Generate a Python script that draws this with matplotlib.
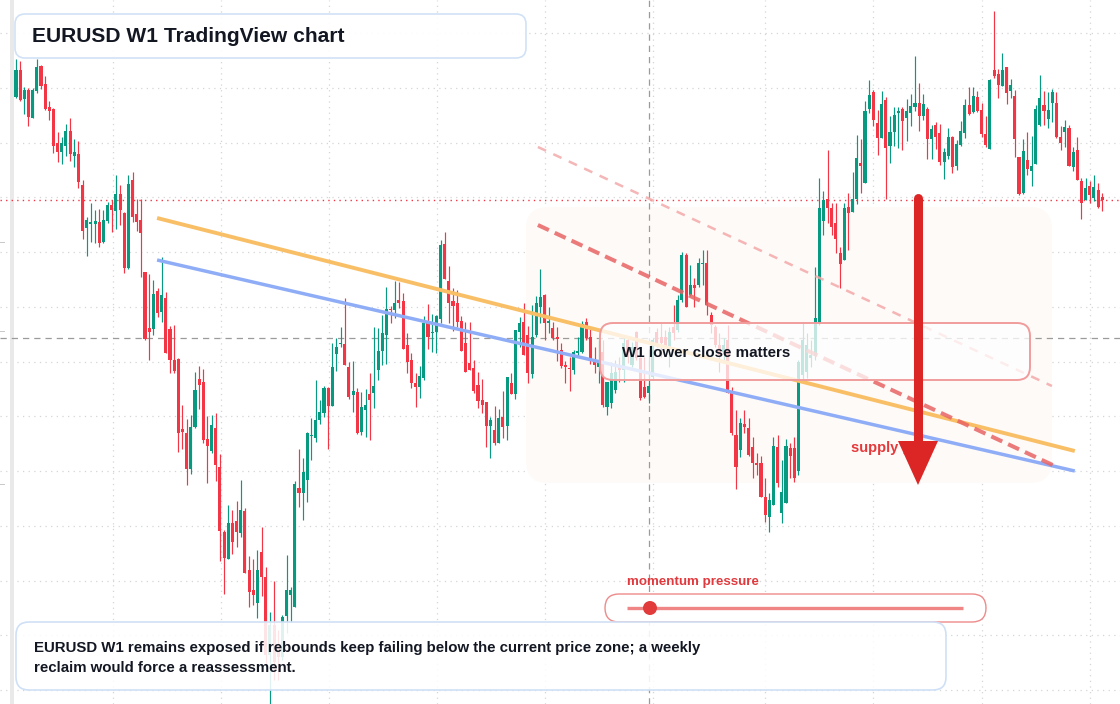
import numpy as np
import matplotlib
matplotlib.use("Agg")
import matplotlib.pyplot as plt
from matplotlib.patches import FancyBboxPatch, Polygon, Rectangle, Circle
from matplotlib.transforms import Affine2D

plt.rcParams['font.family'] = ['Liberation Sans', 'DejaVu Sans']

# EURUSD weekly candles, prices in pips (price x 10000)
OPEN_PIPS = [
    10991, 11018, 10989, 10998, 10970, 10997, 11022, 11004, 10981, 10979,
    10945, 10936, 10942, 10957, 10932, 10934, 10903, 10860, 10864, 10864,
    10866, 10846, 10867, 10883, 10877, 10894, 10875, 10820, 10908, 10874,
    10868, 10816, 10760, 10759, 10797, 10776, 10790, 10759, 10728, 10729,
    10659, 10655, 10619, 10661, 10709, 10706, 10649, 10637, 10660, 10621,
    10556, 10529, 10565, 10567, 10555, 10577, 10518, 10498, 10485, 10536,
    10511, 10433, 10463, 10443, 10431, 10472, 10493, 10481, 10600, 10595,
    10608, 10652, 10650, 10668, 10675, 10700, 10682, 10734, 10744, 10744,
    10721, 10693, 10696, 10656, 10678, 10694, 10695, 10718, 10737, 10753,
    10779, 10778, 10788, 10787, 10743, 10728, 10705, 10701, 10710, 10765,
    10755, 10756, 10769, 10844, 10807, 10787, 10785, 10767, 10745, 10725,
    10720, 10703, 10688, 10686, 10662, 10658, 10645, 10671, 10662, 10705,
    10694, 10756, 10766, 10753, 10714, 10753, 10781, 10793, 10765, 10760,
    10751, 10738, 10723, 10720, 10718, 10735, 10736, 10766, 10751, 10728,
    10721, 10736, 10681, 10685, 10698, 10723, 10718, 10748, 10723, 10756,
    10730, 10701, 10695, 10711, 10756, 10751, 10751, 10741, 10761, 10758,
    10788, 10833, 10793, 10803, 10803, 10824, 10825, 10773, 10761, 10743,
    10736, 10748, 10696, 10653, 10638, 10664, 10660, 10641, 10625, 10625,
    10591, 10571, 10583, 10641, 10575, 10585, 10640, 10640, 10617, 10713,
    10716, 10730, 10732, 10765, 10867, 10889, 10880, 10865, 10835, 10828,
    10881, 10876, 10889, 10925, 10905, 10979, 10996, 10965, 10950, 10988,
    10942, 10956, 10975, 10979, 10970, 10975, 10981, 10985, 10972, 10979,
    10949, 10963, 10955, 10926, 10932, 10951, 10922, 10943, 10955, 10983,
    10976, 10991, 10978, 10954, 10939, 11018, 11014, 11002, 11021, 10997,
    10992, 10931, 10895, 10928, 10917, 10924, 10963, 10983, 10969, 10985,
    10985, 10951, 10956, 10960, 10921, 10938, 10907, 10888, 10902, 10890,
    10898, 10891,
]
HIGH_PIPS = [
    11029, 11027, 11001, 11000, 11000, 11029, 11023, 11012, 10987, 10980,
    10956, 10951, 10964, 10970, 10949, 10947, 10908, 10871, 10885, 10878,
    10879, 10878, 10886, 10888, 10913, 10903, 10876, 10913, 10916, 10889,
    10889, 10816, 10814, 10808, 10800, 10831, 10796, 10762, 10763, 10730,
    10683, 10669, 10673, 10716, 10722, 10719, 10672, 10673, 10675, 10634,
    10558, 10583, 10578, 10587, 10608, 10580, 10532, 10529, 10538, 10561,
    10521, 10476, 10507, 10458, 10473, 10533, 10501, 10607, 10639, 10630,
    10656, 10670, 10708, 10688, 10702, 10701, 10745, 10750, 10761, 10790,
    10726, 10727, 10700, 10696, 10699, 10715, 10761, 10760, 10773, 10801,
    10782, 10807, 10806, 10795, 10755, 10735, 10715, 10722, 10772, 10784,
    10774, 10773, 10848, 10856, 10822, 10800, 10798, 10772, 10766, 10766,
    10728, 10716, 10709, 10686, 10671, 10682, 10679, 10697, 10711, 10715,
    10758, 10771, 10785, 10762, 10783, 10792, 10819, 10794, 10781, 10766,
    10761, 10745, 10727, 10731, 10738, 10751, 10767, 10770, 10759, 10741,
    10748, 10748, 10706, 10726, 10728, 10731, 10751, 10751, 10746, 10757,
    10731, 10731, 10733, 10750, 10760, 10766, 10758, 10761, 10783, 10793,
    10836, 10835, 10823, 10810, 10830, 10838, 10838, 10776, 10763, 10755,
    10750, 10763, 10701, 10678, 10670, 10678, 10670, 10651, 10635, 10632,
    10610, 10595, 10651, 10653, 10628, 10649, 10645, 10651, 10728, 10766,
    10755, 10748, 10821, 10910, 10897, 10938, 10885, 10885, 10841, 10885,
    10895, 10916, 10953, 10949, 10987, 11008, 10998, 10978, 10997, 10991,
    10972, 10981, 10981, 10981, 10989, 10994, 11032, 11005, 10994, 10981,
    10963, 10966, 10964, 10940, 10960, 10952, 10948, 10967, 10989, 11001,
    11001, 10997, 10985, 10972, 11009, 11077, 11019, 11035, 11021, 11009,
    10998, 10931, 10949, 10956, 10952, 10983, 11013, 10997, 10996, 10999,
    10996, 10962, 10968, 10963, 10941, 10951, 10910, 10910, 10907, 10913,
    10905, 10895,
]
LOW_PIPS = [
    10990, 10987, 10974, 10962, 10970, 10995, 10999, 10978, 10968, 10935,
    10926, 10924, 10932, 10927, 10921, 10900, 10849, 10832, 10846, 10845,
    10841, 10845, 10865, 10856, 10859, 10863, 10815, 10819, 10866, 10857,
    10811, 10748, 10728, 10753, 10771, 10766, 10735, 10715, 10715, 10636,
    10639, 10603, 10614, 10660, 10679, 10645, 10605, 10635, 10607, 10527,
    10494, 10529, 10534, 10541, 10551, 10515, 10481, 10483, 10470, 10492,
    10423, 10376, 10408, 10408, 10428, 10455, 10466, 10481, 10581, 10568,
    10586, 10628, 10646, 10664, 10671, 10639, 10682, 10717, 10741, 10723,
    10689, 10676, 10654, 10653, 10651, 10648, 10680, 10708, 10723, 10724,
    10765, 10770, 10780, 10739, 10715, 10700, 10681, 10690, 10708, 10739,
    10736, 10735, 10765, 10809, 10765, 10757, 10761, 10737, 10716, 10718,
    10695, 10680, 10675, 10641, 10630, 10643, 10645, 10650, 10648, 10694,
    10689, 10741, 10733, 10705, 10710, 10751, 10765, 10748, 10755, 10748,
    10727, 10720, 10705, 10697, 10714, 10731, 10735, 10748, 10724, 10715,
    10705, 10681, 10673, 10680, 10695, 10706, 10706, 10725, 10721, 10728,
    10688, 10690, 10685, 10708, 10741, 10731, 10740, 10721, 10748, 10756,
    10786, 10781, 10792, 10781, 10801, 10803, 10773, 10755, 10741, 10716,
    10728, 10695, 10653, 10599, 10631, 10655, 10632, 10610, 10613, 10591,
    10566, 10556, 10583, 10601, 10565, 10585, 10610, 10606, 10613, 10708,
    10710, 10721, 10728, 10763, 10853, 10865, 10853, 10835, 10800, 10828,
    10838, 10876, 10884, 10895, 10905, 10975, 10962, 10933, 10950, 10889,
    10925, 10942, 10940, 10938, 10947, 10962, 10977, 10957, 10968, 10929,
    10929, 10939, 10923, 10909, 10929, 10915, 10918, 10942, 10950, 10973,
    10975, 10976, 10951, 10941, 10939, 11010, 10990, 11002, 10984, 10990,
    10931, 10893, 10894, 10913, 10902, 10924, 10962, 10963, 10960, 10966,
    10950, 10938, 10941, 10922, 10917, 10908, 10869, 10888, 10885, 10887,
    10880, 10877,
]
CLOSE_PIPS = [
    11018, 10988, 10998, 10971, 10998, 11021, 11002, 10979, 10977, 10942,
    10936, 10945, 10957, 10934, 10936, 10906, 10857, 10868, 10866, 10867,
    10845, 10868, 10883, 10878, 10894, 10878, 10820, 10904, 10871, 10866,
    10855, 10749, 10756, 10794, 10775, 10793, 10735, 10728, 10717, 10655,
    10656, 10619, 10661, 10698, 10703, 10648, 10642, 10663, 10623, 10557,
    10530, 10565, 10546, 10556, 10578, 10515, 10496, 10493, 10518, 10511,
    10433, 10463, 10426, 10431, 10471, 10498, 10498, 10604, 10595, 10616,
    10655, 10653, 10668, 10676, 10700, 10682, 10721, 10741, 10745, 10723,
    10691, 10697, 10655, 10681, 10683, 10688, 10702, 10737, 10755, 10779,
    10778, 10785, 10785, 10739, 10726, 10705, 10701, 10712, 10765, 10751,
    10756, 10772, 10843, 10809, 10785, 10782, 10766, 10737, 10716, 10718,
    10697, 10687, 10683, 10662, 10668, 10645, 10670, 10661, 10711, 10694,
    10758, 10765, 10733, 10715, 10751, 10785, 10791, 10765, 10767, 10750,
    10749, 10722, 10721, 10719, 10736, 10737, 10764, 10750, 10727, 10723,
    10728, 10683, 10706, 10715, 10716, 10718, 10745, 10731, 10741, 10730,
    10690, 10691, 10702, 10748, 10744, 10745, 10741, 10756, 10755, 10788,
    10833, 10781, 10803, 10800, 10825, 10825, 10783, 10763, 10743, 10733,
    10743, 10695, 10655, 10621, 10665, 10661, 10633, 10625, 10623, 10591,
    10573, 10588, 10642, 10605, 10596, 10642, 10632, 10610, 10726, 10748,
    10743, 10733, 10770, 10880, 10888, 10880, 10861, 10849, 10824, 10880,
    10875, 10889, 10930, 10922, 10977, 10993, 10968, 10950, 10984, 10940,
    10956, 10973, 10977, 10967, 10977, 10982, 10985, 10972, 10984, 10949,
    10959, 10951, 10926, 10936, 10951, 10921, 10944, 10957, 10983, 10974,
    10992, 10977, 10954, 10943, 11008, 11012, 11003, 11018, 10995, 11003,
    10949, 10894, 10937, 10919, 10922, 10979, 10990, 10977, 10978, 10996,
    10951, 10945, 10961, 10922, 10936, 10908, 10885, 10900, 10893, 10901,
    10881, 10888,
]

# annotation anchors (bar index, price)
ORANGE_LINE = [(33.9, 1.0870), (254.4, 1.0637)]
BLUE_LINE = [(33.9, 1.0828), (254.4, 1.0617)]
RED_DASH_LINE = [(125.4, 1.0863), (249.6, 1.0622)]
LIGHT_DASH_LINE = [(125.4, 1.0941), (248.9, 1.0702)]
CROSS_X = 152.1
CROSS_Y = 1.0750

TITLE = "EURUSD W1 TradingView chart"
NOTE = "W1 lower close matters"
ZONE_LABEL = "supply gate"
GAUGE_LABEL = "momentum pressure"
FOOTER_1 = "EURUSD W1 remains exposed if rebounds keep failing below the current price zone; a weekly"
FOOTER_2 = "reclaim would force a reassessment."

o = np.array(OPEN_PIPS) / 1e4
h = np.array(HIGH_PIPS) / 1e4
l = np.array(LOW_PIPS) / 1e4
c = np.array(CLOSE_PIPS) / 1e4
n = len(c)
idx = np.arange(n)

W, H = 1120, 704
GREEN = '#089981'
RED = '#f23645'

fig = plt.figure(figsize=(W / 100, H / 100), dpi=100)
fig.patch.set_facecolor('white')
ax = fig.add_axes([0, 0, 1, 1])
ax.axis('off')
ax.set_xlim(-3.844, 265.26)
ax.set_ylim(1.1088 - 0.0704, 1.1088)

# pixel-space transform (x right, y down) for chart furniture
px = Affine2D().scale(1, -1).translate(0, H)

# grid
for yv in 1.1055 - 0.005475 * np.arange(13):
    ax.axhline(yv, color='#d3d5d8', lw=0.9, ls=(0, (1, 3.5)), zorder=0)
for xv in [23.3, 49.3, 75.2, 101.2, 127.1, 153.1, 180.0, 205.9, 232.1, 258.1]:
    ax.axvline(xv, color='#d3d5d8', lw=0.9, ls=(0, (1, 3.5)), zorder=0)

# left scale strip
ax.add_patch(Rectangle((10, 0), 4, H, transform=px, color='#e9e9ea', lw=0, zorder=0.2))
for ty in [242, 331, 484]:
    ax.plot([0, 4], [ty, ty], transform=px, color='#c8c8c8', lw=0.7, zorder=0.2)

# supply zone
ax.add_patch(FancyBboxPatch((526, 207), 526, 276, boxstyle='round,pad=0,rounding_size=22',
                            transform=px, fc='#fefaf8', ec='none', zorder=0.5))

# crosshair + last price line
ax.axhline(CROSS_Y, color='#9b9b9b', lw=0.9, ls=(0, (5, 4)), zorder=1)
ax.axvline(CROSS_X, color='#9b9b9b', lw=0.9, ls=(0, (5, 4)), zorder=1)
ax.axhline(c[-1], color=RED, lw=1.0, ls=(0, (1, 3)), zorder=1)

# candles
up = c >= o
cols = np.where(up, GREEN, RED)
ax.vlines(idx, l, h, colors=cols, lw=0.85, zorder=3)
bottom = np.minimum(o, c)
height = np.maximum(np.abs(c - o), 0.00012)
ax.bar(idx, height, bottom=bottom, width=0.74, color=cols, lw=0, zorder=3)

# trend lines
ax.plot(*zip(*ORANGE_LINE), color='#f9bf66', lw=2.8, solid_capstyle='butt', zorder=4)
ax.plot(*zip(*BLUE_LINE), color='#8fadf6', lw=2.5, solid_capstyle='butt', zorder=4)
ax.plot(*zip(*RED_DASH_LINE), color='#e86464', alpha=0.85, lw=2.9,
        ls=(0, (3.0, 1.6)), zorder=4)
ax.plot(*zip(*LIGHT_DASH_LINE), color='#f3a9a9', alpha=0.85, lw=1.8,
        ls=(0, (3.6, 3.2)), zorder=4)

# title box
ax.add_patch(FancyBboxPatch((15, 14), 511, 44, boxstyle='round,pad=0,rounding_size=10',
                            transform=px, fc='white', ec='#cfe0f6', lw=1.2, alpha=0.95, zorder=6))
ax.text(32, 36.5, TITLE, transform=px, ha='left', va='center', fontsize=15.1,
        fontweight='bold', color='#131722', zorder=7)

# note box
ax.add_patch(FancyBboxPatch((600, 323), 430, 57, boxstyle='round,pad=0,rounding_size=13',
                            transform=px, fc='white', ec='none', alpha=0.76, zorder=6))
ax.add_patch(FancyBboxPatch((600, 323), 430, 57, boxstyle='round,pad=0,rounding_size=13',
                            transform=px, fc='none', ec='#f09c9c', lw=1.4, zorder=6))
ax.text(622, 353, NOTE, transform=px, ha='left', va='center', fontsize=10.9,
        fontweight='bold', color='#131722', zorder=7)

# supply gate label + arrow
ax.text(851, 448, ZONE_LABEL, transform=px, ha='left', va='center', fontsize=10.5,
        fontweight='bold', color='#e5393b', zorder=7)
ax.plot([918, 918], [198, 446], transform=px, color='#dc2626', lw=6.5,
        solid_capstyle='round', zorder=8)
ax.add_patch(Polygon([(898, 441), (938, 441), (918, 485)], closed=True, transform=px,
                     fc='#dc2626', ec='none', zorder=8))

# momentum gauge
ax.text(627, 582, GAUGE_LABEL, transform=px, ha='left', va='center', fontsize=9.6,
        fontweight='bold', color='#e03a3e', zorder=7)
ax.add_patch(FancyBboxPatch((605, 594), 381, 28, boxstyle='round,pad=0,rounding_size=14',
                            transform=px, fc='white', ec='#ee8a8a', lw=1.0, zorder=6))
ax.plot([627, 963], [608, 608], transform=px, color='#ef8585', lw=2.4,
        solid_capstyle='butt', zorder=7)
ax.add_patch(Circle((650, 608), 7, transform=px, fc='#e23b3b', ec='none', zorder=8))

# footer box
ax.add_patch(FancyBboxPatch((16, 622), 930, 68, boxstyle='round,pad=0,rounding_size=13',
                            transform=px, fc='white', ec='none', alpha=0.88, zorder=6))
ax.add_patch(FancyBboxPatch((16, 622), 930, 68, boxstyle='round,pad=0,rounding_size=13',
                            transform=px, fc='none', ec='#cfe0f6', lw=1.2, zorder=6))
ax.text(34, 648, FOOTER_1, transform=px, ha='left', va='center', fontsize=10.8,
        fontweight='bold', color='#131722', zorder=7)
ax.text(34, 668, FOOTER_2, transform=px, ha='left', va='center', fontsize=10.8,
        fontweight='bold', color='#131722', zorder=7)

fig.savefig('out.png', dpi=100, facecolor='white')
